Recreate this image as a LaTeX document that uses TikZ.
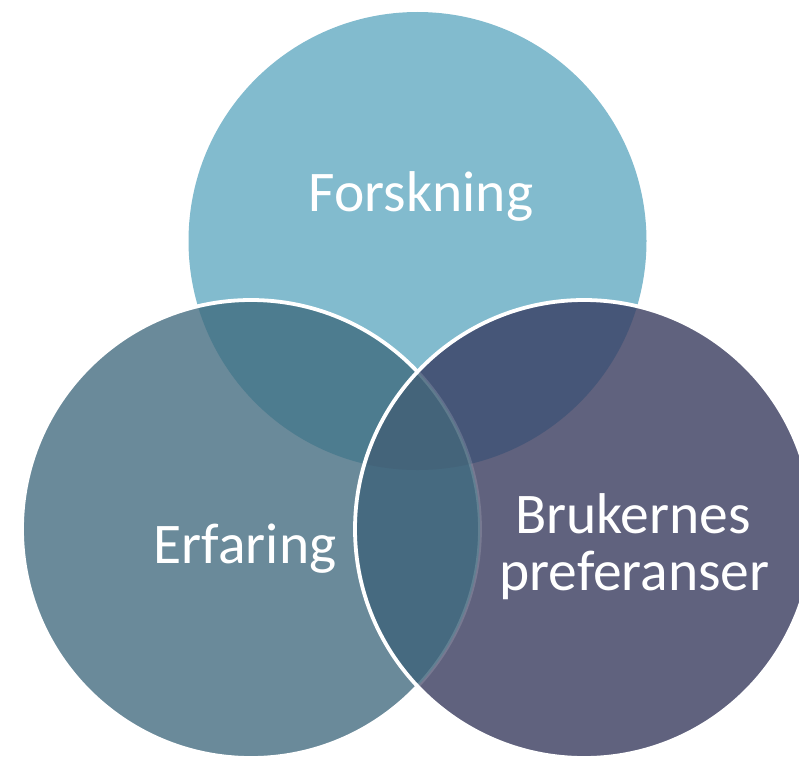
\documentclass[tikz,border=0pt]{standalone}
\usepackage{fontspec}
\setmainfont{Carlito}
\definecolor{cT}{HTML}{82BBCE}
\definecolor{cL}{HTML}{6A8A9A}
\definecolor{cR}{HTML}{60627E}
\definecolor{cTL}{HTML}{4D7C8F}
\definecolor{cTR}{HTML}{465678}
\definecolor{cLR}{HTML}{466A80}
\definecolor{cTLR}{HTML}{44647A}
\tikzset{
  venn/.style={circle, inner sep=0pt, minimum size=458pt},
  ring/.style={draw=white, line width=3.8pt},
  label/.style={text=white, inner sep=0pt, font=\fontsize{57.5}{58}\selectfont, align=center}
}
\begin{document}
\begin{tikzpicture}[x=1pt,y=-1pt]
\useasboundingbox (0,0) rectangle (799,760);
\coordinate (ct) at (417.5,241);
\coordinate (cl) at (251,529);
\coordinate (cr) at (584,529);
% base fills
\node[venn, fill=cT] (top) at (ct) {};
\node[venn, fill=cL] (left) at (cl) {};
\begin{scope}
  \clip (ct) circle[radius=229pt];
  \fill[cTL] (cl) circle[radius=229pt];
\end{scope}
\draw[ring] (cl) circle[radius=229pt];
\node[venn, fill=cR] (right) at (cr) {};
\begin{scope}
  \clip (ct) circle[radius=229pt];
  \fill[cTR] (cr) circle[radius=229pt];
\end{scope}
\begin{scope}
  \clip (cl) circle[radius=229pt];
  \fill[cLR] (cr) circle[radius=229pt];
\end{scope}
\begin{scope}
  \clip (ct) circle[radius=229pt];
  \clip (cl) circle[radius=229pt];
  \fill[cTLR] (cr) circle[radius=229pt];
\end{scope}
\begin{scope}
  \clip (cr) circle[radius=229pt];
  \draw[ring, draw opacity=0.15] (cl) circle[radius=229pt];
\end{scope}
\draw[ring] (cr) circle[radius=229pt];
% labels
\node[label, anchor=base] (t1) at (421,211) {Forskning};
\node[label, anchor=base] (t2) at (245,563) {Erfaring};
\node[label, anchor=base] (t3a) at (633,533) {Brukernes};
\node[label, anchor=base] (t3b) at (634.5,590) {preferanser};
\end{tikzpicture}
\end{document}
